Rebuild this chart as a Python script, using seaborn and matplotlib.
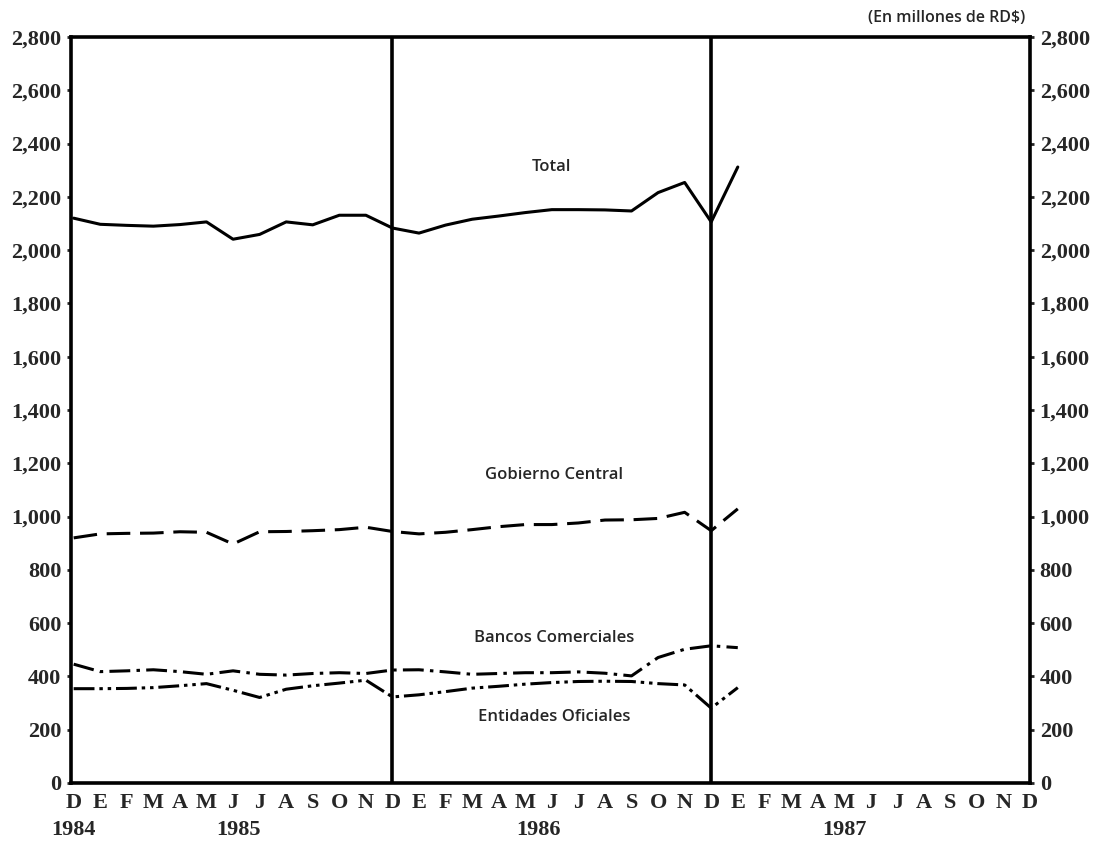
import matplotlib
matplotlib.use("Agg")
import matplotlib.pyplot as plt
import seaborn as sns
import pandas as pd
import numpy as np

# ---- data (millones de RD$), monthly from Dec 1984 to Jan 1987 ----
months = list(range(26))
total = [2120, 2097, 2093, 2090, 2096, 2106, 2041, 2059, 2106, 2095, 2131, 2131,
         2083, 2064, 2094, 2116, 2128, 2141, 2152, 2152, 2151, 2147, 2216, 2254,
         2106, 2312]
gobierno = [920, 935, 937, 938, 943, 941, 897, 943, 944, 947, 951, 960,
            944, 935, 941, 951, 962, 970, 970, 976, 987, 988, 993, 1016,
            947, 1029]
bancos = [446, 418, 421, 425, 418, 408, 421, 408, 405, 411, 414, 411,
          424, 425, 417, 408, 411, 414, 414, 417, 412, 402, 471, 502,
          515, 508]
entidades = [354, 354, 355, 358, 365, 373, 348, 321, 352, 365, 375, 386,
             323, 331, 343, 356, 363, 371, 377, 381, 382, 381, 373, 368,
             281, 358]

series_names = ["Total", "Gobierno Central", "Bancos Comerciales", "Entidades Oficiales"]
month_labels = ["D", "E", "F", "M", "A", "M", "J", "J", "A", "S", "O", "N"] * 3 + ["D"]
year_labels = ["1984", "1985", "1986", "1987"]
y_ticks = list(range(0, 2801, 200))

# ---- build long table ----
df = pd.DataFrame({
    "mes": months * 4,
    "valor": total + gobierno + bancos + entidades,
    "serie": sum([[n] * len(months) for n in series_names], []),
})

sns.set_style("white")
plt.rcParams["lines.scale_dashes"] = False

fig = plt.figure(figsize=(11.04, 8.41), dpi=100)
ax = fig.add_axes([71 / 1104, 1 - 783 / 841, (1030 - 71) / 1104, (783 - 37) / 841])

dash_map = {
    "Total": "",
    "Gobierno Central": (17, 7),
    "Bancos Comerciales": (15, 4.5, 2.5, 4.5),
    "Entidades Oficiales": (15, 3.5, 2.5, 3.5, 2.5, 3.5),
}
sns.lineplot(data=df, x="mes", y="valor", style="serie", style_order=series_names,
             dashes=dash_map, color="black", linewidth=2.2, legend=False, ax=ax)

# year separators
for xv in (12, 24):
    ax.axvline(xv, color="black", linewidth=2.6)

ax.set_xlim(-0.1, 36)
ax.set_ylim(0, 2800)
ax.set_xlabel("")
ax.set_ylabel("")

serif = ["Liberation Serif", "DejaVu Serif"]
ax.set_yticks(y_ticks)
ax.set_yticklabels([f"{v:,}" for v in y_ticks], fontfamily=serif,
                   fontweight="bold", fontsize=16)
ax.set_xticks(range(37))
ax.set_xticklabels(month_labels, fontfamily=serif, fontweight="bold", fontsize=16)
ax.tick_params(axis="y", which="both", left=True, right=True, labelleft=True,
               labelright=True, direction="out", length=3, width=2, pad=4)
ax.tick_params(axis="x", direction="out", length=4, width=2.5, pad=3)

for sp in ax.spines.values():
    sp.set_visible(True)
    sp.set_color("black")
    sp.set_linewidth(2.6)

# year labels under months
year_pos = [0, 6.2, 17.5, 29.0]
for lab, xp in zip(year_labels, year_pos):
    ax.text(xp, -0.063, lab, transform=ax.get_xaxis_transform(), ha="center",
            va="center", fontfamily=serif, fontweight="bold", fontsize=16)

# series labels
sans = ["Open Sans", "DejaVu Sans"]
label_pos = {"Total": (18.0, 2311), "Gobierno Central": (18.1, 1157),
             "Bancos Comerciales": (18.1, 545), "Entidades Oficiales": (18.1, 248)}
for name in series_names:
    xp, yp = label_pos[name]
    ax.text(xp, yp, name, ha="center", va="center", fontfamily=sans,
            fontweight="semibold", fontsize=12)

fig.text(1025 / 1104, 1 - 18 / 841, "(En millones de RD$)", ha="right", va="center",
         fontfamily=sans, fontweight="semibold", fontsize=11.5)

fig.savefig("out.png", dpi=100)
